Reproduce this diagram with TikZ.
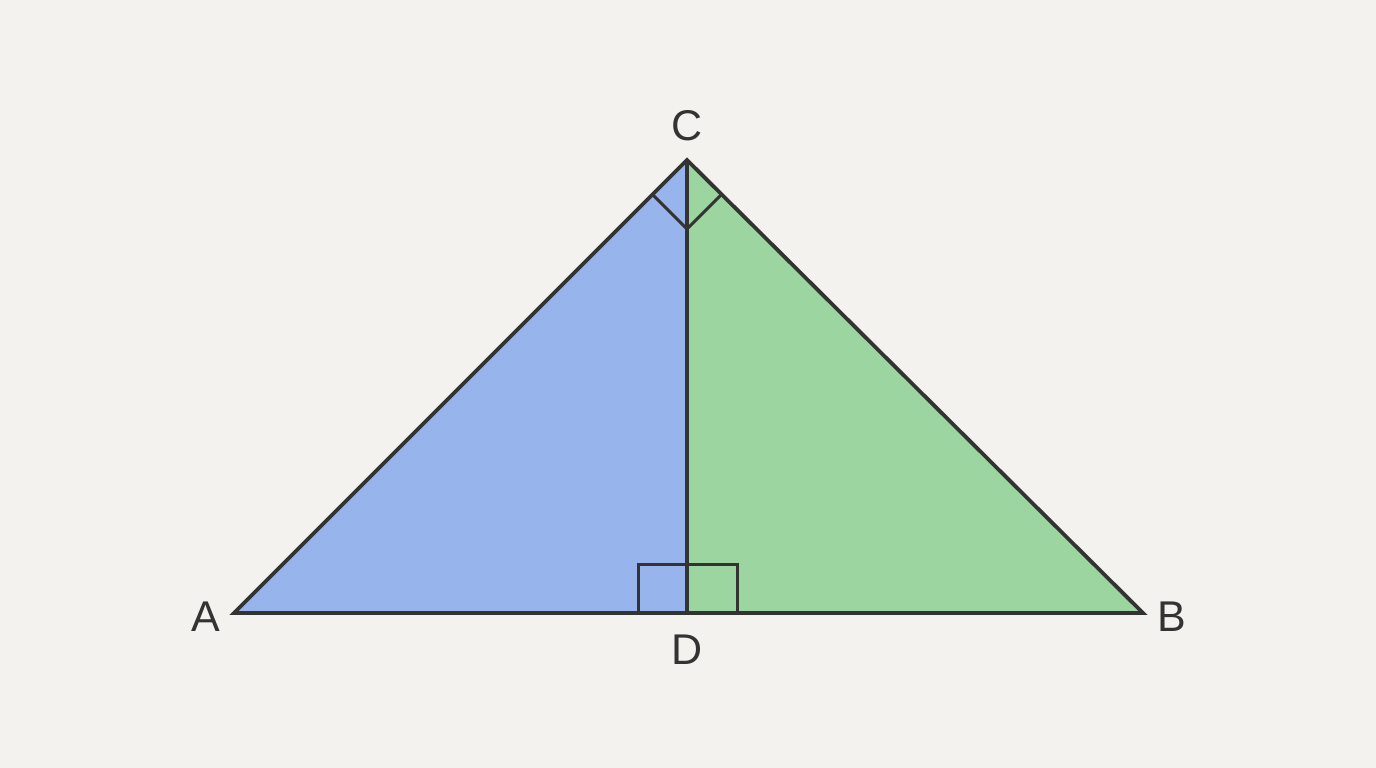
\documentclass[tikz,border=0pt]{standalone}
\usepackage{fontspec}
\setmainfont{Liberation Sans}
\definecolor{bg}{HTML}{F3F2EE}
\definecolor{bluef}{HTML}{98B4EC}
\definecolor{greenf}{HTML}{9DD5A0}
\definecolor{ink}{HTML}{333333}
\begin{document}
\begin{tikzpicture}[x=1pt,y=-1pt,
  edge/.style={draw=ink,line width=3.8pt,line join=miter},
  anglemark/.style={draw=ink,line width=3pt},
  lbl/.style={text=ink,font=\fontsize{43}{43}\selectfont,inner sep=0pt,anchor=center}]
\fill[bg] (0,0) rectangle (1376,768);
\useasboundingbox (0,0) rectangle (1376,768);
\coordinate (A) at (234,613);
\coordinate (B) at (1143,613);
\coordinate (C) at (687,160);
\coordinate (D) at (687,613);
\fill[bluef] (A) -- (D) -- (C) -- cycle;
\fill[greenf] (D) -- (B) -- (C) -- cycle;
% right angle marks
\coordinate (m1) at (653,195);
\coordinate (m2) at (687,229);
\coordinate (m3) at (721,195);
\draw[anglemark] (m1) -- (m2) -- (m3);
\coordinate (s1) at (638,613);
\coordinate (s2) at (638,564);
\coordinate (s3) at (737,564);
\coordinate (s4) at (737,613);
\draw[anglemark] (s1) -- (s2) -- (s3) -- (s4);
\draw[edge] (A) -- (B) -- (C) -- cycle;
\draw[edge] (C) -- (D);
\node[lbl] (lc) at (687,126) {C};
\node[lbl] (la) at (206,617) {A};
\node[lbl] (lb) at (1172,617) {B};
\node[lbl] (ld) at (687,650) {D};
\end{tikzpicture}
\end{document}
